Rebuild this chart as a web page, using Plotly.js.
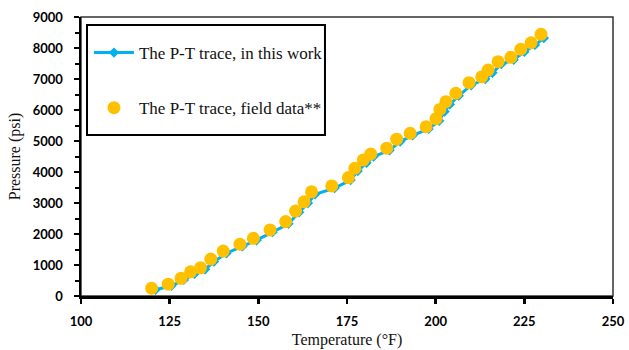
<!DOCTYPE html>
<html>
<head>
<meta charset="utf-8">
<script src="https://cdn.plot.ly/plotly-3.0.1.min.js"></script>
<style>html,body{margin:0;padding:0;background:#fff;}#chart{width:629px;height:350px;}</style>
</head>
<body>
<div id="chart"></div>
<script>
// Model trace ("in this work")
const modelT = [121.0,125.5,129.0,132.0,135.0,137.5,141.0,145.5,149.5,154.0,158.5,161.5,164.0,166.0,171.5,176.0,178.0,180.5,182.5,187.0,190.0,193.5,198.0,201.0,202.5,204.0,206.5,210.0,214.0,216.0,218.5,222.0,225.0,228.0,230.5];
const modelP = [200,330,520,720,860,1110,1380,1600,1800,2060,2330,2700,3000,3280,3480,3740,4030,4300,4500,4700,4980,5180,5390,5650,5950,6180,6460,6800,7000,7200,7480,7620,7880,8100,8320];
// Field data
const fieldT = [119.9,124.6,128.2,130.9,133.7,136.6,140.1,144.8,148.6,153.3,157.7,160.5,162.9,165.0,170.7,175.4,177.2,179.6,181.7,186.2,189.0,192.8,197.3,200.1,201.2,202.9,205.7,209.4,213.0,214.8,217.6,221.2,224.0,226.9,229.7];
const fieldP = [250,380,570,780,910,1190,1450,1670,1860,2130,2400,2740,3040,3360,3550,3820,4120,4390,4580,4770,5060,5250,5460,5720,6020,6270,6540,6880,7070,7290,7560,7700,7960,8170,8440];
const seriesNames = ["The P-T trace, in this work", "The P-T trace, field data**"];
const xTicks = [100,125,150,175,200,225,250];
const yTicks = [0,1000,2000,3000,4000,5000,6000,7000,8000,9000];

const tickFont = {family: 'Lato, "Open Sans", sans-serif', size: 13, color: '#000', weight: 'bold'};
const titleFont = {family: '"Liberation Serif", "Times New Roman", serif', size: 16, color: '#111'};

const data = [
  {x: modelT, y: modelP, type: 'scatter', mode: 'lines+markers', name: seriesNames[0], legendgroup: 'a',
   line: {color: '#00B0F0', width: 3}, marker: {symbol: 'diamond', size: 8, color: '#00B0F0'}},
  {x: fieldT, y: fieldP, type: 'scatter', mode: 'markers', name: seriesNames[1], legendgroup: 'b',
   marker: {symbol: 'circle', size: 13, color: '#FFC000'}}
];

const layout = {
  width: 629, height: 350,
  margin: {l: 81, r: 16, t: 17, b: 54},
  paper_bgcolor: '#fff', plot_bgcolor: '#fff',
  showlegend: true,
  legend: {x: 0.015, y: 0.968, xanchor: 'left', yanchor: 'top', bgcolor: 'rgba(0,0,0,0)',
    borderwidth: 0, font: {family: titleFont.family, size: 17, color: '#111'},
    itemwidth: 40, traceorder: 'grouped', tracegroupgap: 30, valign: 'top',
    title: {text: '&nbsp;', font: {size: 7}}},
  xaxis: {range: [100, 250], tickvals: xTicks, ticks: 'outside', ticklen: 5, tickwidth: 2.5, tickcolor: '#000',
    showline: true, linewidth: 3, linecolor: '#000', showgrid: false, zeroline: false,
    tickfont: tickFont, ticklabelstandoff: 6,
    title: {text: 'Temperature (°F)', font: titleFont, standoff: 7}},
  yaxis: {range: [0, 9000], tickvals: yTicks, ticks: 'outside', ticklen: 5, tickwidth: 2.5, tickcolor: '#000',
    showline: true, linewidth: 2.5, linecolor: '#000', showgrid: false, zeroline: false,
    tickfont: tickFont, ticklabelstandoff: 8,
    minor: {dtick: 500, tick0: 0, ticks: 'outside', ticklen: 4, tickwidth: 2, tickcolor: '#000'},
    title: {text: 'Pressure (psi)', font: titleFont, standoff: 8}},
  xaxis2: {overlaying: 'x', anchor: 'y', matches: 'x', range: [100, 250], tickvals: xTicks, ticks: 'inside', ticklen: 4, tickwidth: 2.5,
    tickcolor: '#000', showticklabels: false, showline: false, showgrid: false, zeroline: false},
  yaxis2: {overlaying: 'y', anchor: 'x', side: 'left', range: [0, 9000], tickvals: yTicks, ticks: 'inside', ticklen: 4, tickwidth: 2.5,
    tickcolor: '#000', showticklabels: false, showline: false, showgrid: false, zeroline: false},
  shapes: [
    {type: 'rect', xref: 'paper', yref: 'paper', x0: 0, x1: 1, y0: 0, y1: 1,
     line: {color: '#333', width: 1.5}, layer: 'below'},
    {type: 'rect', xref: 'paper', yref: 'paper', x0: 0.0113, x1: 0.4586, y0: 0.577, y1: 0.9713,
     line: {color: '#000', width: 2}, fillcolor: '#fff', layer: 'below'}
  ]
};

Plotly.newPlot('chart', data, layout, {displayModeBar: false, staticPlot: true});
</script>
</body>
</html>
